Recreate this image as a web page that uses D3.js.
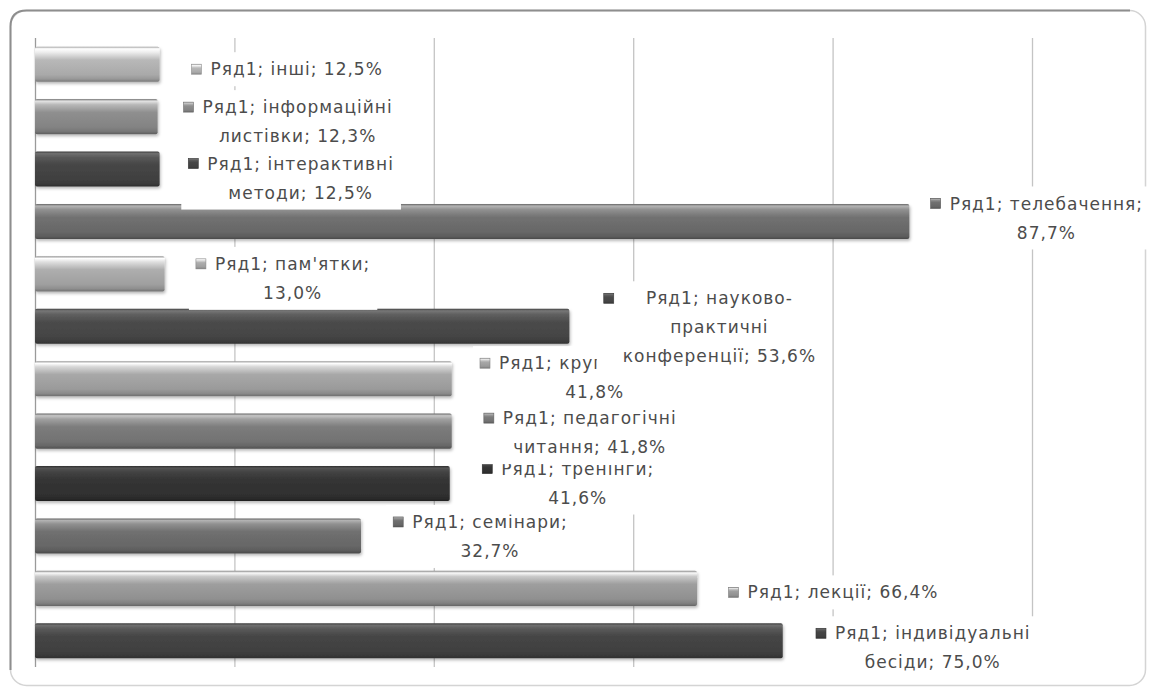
<!DOCTYPE html>
<html>
<head>
<meta charset="utf-8">
<script src="https://cdn.jsdelivr.net/npm/d3@7"></script>
<style>
  body { margin: 0; background: #fff; }
  svg { display: block; }
  .lbl { font-family: "DejaVu Sans", "Noto Sans", sans-serif; font-size: 17px; letter-spacing: 1px; fill: #4c4c4c; }
</style>
</head>
<body>
<svg id="chart" width="1151" height="689"></svg>
<script>
// Series name shown in every data label
const seriesName = 'Ряд1';

// Categories in series order (first one is drawn at the bottom)
const categories = [
  'індивідуальні бесіди', 'лекції', 'семінари', 'тренінги',
  'педагогічні читання', 'круглі столи', 'науково-практичні конференції',
  "пам'ятки", 'телебачення', 'інтерактивні методи',
  'інформаційні листівки', 'інші'
];

// Share of respondents, %
const values = [75.0, 66.4, 32.7, 41.6, 41.8, 41.8, 53.6, 13.0, 87.7, 12.5, 12.3, 12.5];

// Vertical gridlines, %
const gridTicks = [0, 20, 40, 60, 80, 100];

// Bar fill shades
const barColors = ['#434343', '#989898', '#6c6c6c', '#333333', '#787878', '#a2a2a2',
                   '#484848', '#a8a8a8', '#6d6d6d', '#444444', '#8a8a8a', '#b2b2b2'];

// Label wrapping: number of words on each line
const labelLineWords = [[2, 2], [3], [2, 1], [2, 1], [2, 2], [3, 1], [2, 1, 2], [2, 1], [2, 1], [2, 2], [2, 2], [3]];
// Label placement: offset of the text block centre from the bar end, and of the first line from the bar centre
const labelDx = [150, 146, 129, 128, 138, 143, 150, 128, 137, 141, 140, 137];
const labelDy = [-7.5, 4, -14, -15, -13, -15.5, -28, -10, -18, -5.5, -9.5, 5];

const plot = { left: 35, right: 1032, top: 38, bottom: 667 };
const lineStep = 29;

const svg = d3.select('#chart');
const defs = svg.append('defs');

// soft shadow under bars
const sh = defs.append('filter').attr('id', 'barShadow')
  .attr('x', '-5%').attr('y', '-30%').attr('width', '110%').attr('height', '170%');
sh.append('feDropShadow').attr('dx', 1).attr('dy', 2).attr('stdDeviation', 1.6)
  .attr('flood-color', '#000').attr('flood-opacity', 0.28);

// cylinder-like shading for each bar
barColors.forEach((c, i) => {
  const base = d3.color(c);
  const g = defs.append('linearGradient').attr('id', 'bar' + i)
    .attr('x1', 0).attr('y1', 0).attr('x2', 0).attr('y2', 1);
  [
    [0, base.darker(0.35)],
    [0.06, base.brighter(1.4)],
    [0.16, base.brighter(0.8)],
    [0.38, base.brighter(0.1)],
    [0.8, base.darker(0.15)],
    [0.92, base.darker(0.45)],
    [1, base.darker(1.1)]
  ].forEach(([o, col]) => g.append('stop').attr('offset', o).attr('stop-color', col.formatHex()));
});

// outer frame
svg.append('rect')
  .attr('x', 10.5).attr('y', 10.5).attr('width', 1135).attr('height', 675)
  .attr('rx', 16).attr('fill', '#fff').attr('stroke', '#d4d4d4').attr('stroke-width', 1.5);
svg.append('path')
  .attr('d', 'M10.5,670 L10.5,26.5 Q10.5,10.5 26.5,10.5 L1130,10.5')
  .attr('fill', 'none').attr('stroke', '#8e8e8e').attr('stroke-width', 2);

const x = d3.scaleLinear().domain([0, 100]).range([plot.left, plot.right]);
const y = d3.scaleBand()
  .domain(categories.slice().reverse())
  .range([plot.top, plot.bottom])
  .paddingInner(0.33).paddingOuter(0.165);

// gridlines
const grid = svg.append('g')
  .attr('transform', `translate(0,${plot.bottom})`)
  .call(d3.axisBottom(x).tickValues(gridTicks).tickSize(-(plot.bottom - plot.top)).tickFormat(''));
grid.select('.domain').remove();
grid.selectAll('.tick line')
  .attr('stroke', (d) => d === 0 ? '#9a9a9a' : '#c4c4c4')
  .attr('stroke-width', 1.3);

const data = categories.map((c, i) => ({ c, v: values[i], i }));

// bars
svg.append('g').selectAll('rect').data(data).join('rect')
  .attr('x', x(0))
  .attr('y', (d) => y(d.c))
  .attr('width', (d) => x(d.v) - x(0))
  .attr('height', y.bandwidth())
  .attr('rx', 2)
  .attr('fill', (d) => `url(#bar${d.i})`)
  .attr('filter', 'url(#barShadow)');

// data labels: later labels sit above earlier ones
const fmt = (v) => v.toFixed(1).replace('.', ',') + '%';
const labels = svg.append('g');

data.forEach((d) => {
  const full = `${seriesName}; ${d.c}; ${fmt(d.v)}`;
  const words = full.replace(/-/g, '- ').split(' ').filter(Boolean);
  const lines = [];
  let k = 0;
  labelLineWords[d.i].forEach((n) => {
    lines.push(words.slice(k, k + n).join(' ').replace(/- /g, '-'));
    k += n;
  });

  const cx = x(d.v) + labelDx[d.i];
  const y1 = y(d.c) + y.bandwidth() / 2 + labelDy[d.i];
  const g = labels.append('g');
  const box = g.append('rect').attr('fill', '#fff');
  const texts = g.selectAll('text').data(lines).join('text')
    .attr('class', 'lbl')
    .attr('x', cx)
    .attr('y', (t, j) => y1 + j * lineStep)
    .attr('dy', '0.36em')
    .attr('text-anchor', 'middle')
    .text((t) => t);

  let maxW = 0;
  texts.each(function () { maxW = Math.max(maxW, this.getComputedTextLength()); });
  const mx = cx - maxW / 2 - 19;
  g.append('rect')
    .attr('x', mx).attr('y', y1 - 5).attr('width', 10).attr('height', 10)
    .attr('fill', `url(#bar${d.i})`).attr('stroke', d3.color(barColors[d.i]).darker(0.6)).attr('stroke-width', 0.6);
  box.attr('x', mx - 7).attr('y', y1 - 17)
    .attr('width', cx + maxW / 2 + 7 - (mx - 7))
    .attr('height', (lines.length - 1) * lineStep + 34);
});
</script>
</body>
</html>
